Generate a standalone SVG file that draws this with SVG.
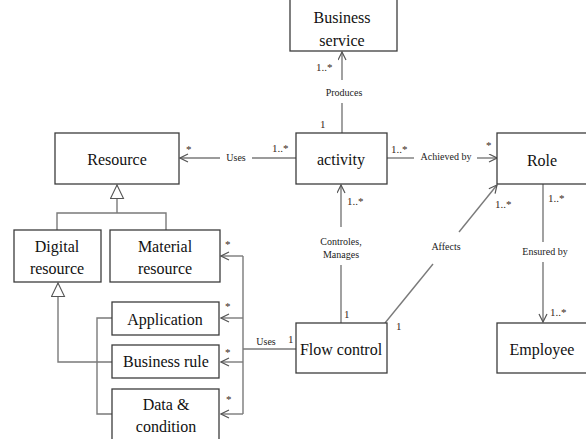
<svg xmlns="http://www.w3.org/2000/svg" width="586" height="439" viewBox="0 0 586 439" font-family="Liberation Serif, Times New Roman, DejaVu Serif, serif">
  <defs>
    <marker id="open" markerWidth="10" markerHeight="10" refX="9" refY="4.5" orient="auto" markerUnits="userSpaceOnUse">
      <path d="M1,0.5 L9,4.5 L1,8.5" fill="none" stroke="#555" stroke-width="1.2"/>
    </marker>
    <marker id="gen" markerWidth="16" markerHeight="16" refX="14" refY="7" orient="auto" markerUnits="userSpaceOnUse">
      <path d="M0.5,0.5 L14,7 L0.5,13.5 Z" fill="#fff" stroke="#555" stroke-width="1.1"/>
    </marker>
    <style>
      .box { fill: #fff; stroke: #3c3c3c; stroke-width: 1.3; }
      .name { font-size: 16px; fill: #111; text-anchor: middle; }
      .line { fill: none; stroke: #7a7a7a; stroke-width: 1.4; }
      .lbl { font-size: 10px; fill: #222; text-anchor: middle; }
      .mult { font-size: 11px; fill: #3a2a20; }
    </style>
  </defs>

  <!-- connectors -->
  <g id="connectors">
    <!-- activity produces business service -->
    <line class="line" x1="342" y1="133" x2="342" y2="103"/>
    <line class="line" x1="342" y1="80" x2="342" y2="52" marker-end="url(#open)"/>
    <text class="lbl" x="344" y="96">Produces</text>
    <text class="mult" x="316" y="71">1..*</text>
    <text class="mult" x="320" y="128">1</text>

    <!-- activity uses resource -->
    <line class="line" x1="296" y1="158" x2="252" y2="158"/>
    <line class="line" x1="220" y1="158" x2="180" y2="158" marker-end="url(#open)"/>
    <text class="lbl" x="236" y="161">Uses</text>
    <text class="mult" x="186" y="153">*</text>
    <text class="mult" x="272" y="152">1..*</text>

    <!-- activity achieved by role -->
    <line class="line" x1="387" y1="158" x2="414" y2="158"/>
    <line class="line" x1="477" y1="158" x2="497" y2="158" marker-end="url(#open)"/>
    <text class="lbl" x="446" y="160">Achieved by</text>
    <text class="mult" x="391" y="153">1..*</text>
    <text class="mult" x="486" y="149">*</text>

    <!-- flow control controls / manages activity -->
    <line class="line" x1="341" y1="323" x2="341" y2="265"/>
    <line class="line" x1="341" y1="227" x2="341" y2="185" marker-end="url(#open)"/>
    <text class="lbl" x="341" y="245">Controles,</text>
    <text class="lbl" x="341" y="258">Manages</text>
    <text class="mult" x="347" y="205">1..*</text>
    <text class="mult" x="344" y="318">1</text>

    <!-- flow control affects role -->
    <line class="line" x1="385" y1="323" x2="433" y2="264"/>
    <line class="line" x1="459" y1="232" x2="497" y2="185" marker-end="url(#open)"/>
    <text class="lbl" x="446" y="250">Affects</text>
    <text class="mult" x="495" y="208">1..*</text>
    <text class="mult" x="396" y="330">1</text>

    <!-- role ensured by employee -->
    <line class="line" x1="543" y1="184" x2="543" y2="242"/>
    <line class="line" x1="543" y1="262" x2="543" y2="322" marker-end="url(#open)"/>
    <text class="lbl" x="545" y="255">Ensured by</text>
    <text class="mult" x="548" y="202">1..*</text>
    <text class="mult" x="550" y="316">1..*</text>

    <!-- resource generalisation -->
    <path class="line" d="M57,230 L57,213 L166,213 L166,230"/>
    <line class="line" x1="117" y1="213" x2="117" y2="185" marker-end="url(#gen)"/>

    <!-- business rule specialises digital resource -->
    <path class="line" d="M112,362 L58,362 L58,283" marker-end="url(#gen)"/>

    <!-- bracket grouping application and data & condition -->
    <path class="line" d="M112,318 L97,318 L97,414 L112,414"/>

    <!-- flow control uses material / application / rule / data -->
    <line class="line" x1="296" y1="349" x2="243" y2="349"/>
    <line class="line" x1="243" y1="256" x2="243" y2="414"/>
    <line class="line" x1="243" y1="256" x2="221" y2="256" marker-end="url(#open)"/>
    <line class="line" x1="243" y1="318" x2="221" y2="318" marker-end="url(#open)"/>
    <line class="line" x1="243" y1="362" x2="221" y2="362" marker-end="url(#open)"/>
    <line class="line" x1="243" y1="414" x2="221" y2="414" marker-end="url(#open)"/>
    <text class="lbl" x="266" y="345">Uses</text>
    <text class="mult" x="288" y="343">1</text>
    <text class="mult" x="225" y="248">*</text>
    <text class="mult" x="225" y="310">*</text>
    <text class="mult" x="225" y="356">*</text>
    <text class="mult" x="226" y="403">*</text>
  </g>

  <!-- nodes -->
  <g id="business-service">
    <rect class="box" x="290" y="-5" width="107" height="56"/>
    <text class="name" x="342" y="23">Business</text>
    <text class="name" x="342" y="46">service</text>
  </g>
  <g id="resource">
    <rect class="box" x="55" y="133" width="124" height="51"/>
    <text class="name" x="117" y="165">Resource</text>
  </g>
  <g id="activity">
    <rect class="box" x="296" y="133" width="91" height="51"/>
    <text class="name" x="341" y="165">activity</text>
  </g>
  <g id="role">
    <rect class="box" x="497" y="133" width="100" height="51"/>
    <text class="name" x="542" y="166">Role</text>
  </g>
  <g id="digital-resource">
    <rect class="box" x="14" y="230" width="87" height="52"/>
    <text class="name" x="57" y="252">Digital</text>
    <text class="name" x="57" y="274">resource</text>
  </g>
  <g id="material-resource">
    <rect class="box" x="110" y="230" width="110" height="52"/>
    <text class="name" x="165" y="252">Material</text>
    <text class="name" x="165" y="274">resource</text>
  </g>
  <g id="application">
    <rect class="box" x="112" y="302" width="107" height="33"/>
    <text class="name" x="165" y="325">Application</text>
  </g>
  <g id="business-rule">
    <rect class="box" x="112" y="345" width="107" height="33"/>
    <text class="name" x="166" y="367">Business rule</text>
  </g>
  <g id="data-condition">
    <rect class="box" x="112" y="389" width="107" height="60"/>
    <text class="name" x="166" y="410">Data &amp;</text>
    <text class="name" x="166" y="432">condition</text>
  </g>
  <g id="flow-control">
    <rect class="box" x="296" y="323" width="91" height="50"/>
    <text class="name" x="341" y="355">Flow control</text>
  </g>
  <g id="employee">
    <rect class="box" x="497" y="323" width="100" height="50"/>
    <text class="name" x="542" y="355">Employee</text>
  </g>
</svg>
